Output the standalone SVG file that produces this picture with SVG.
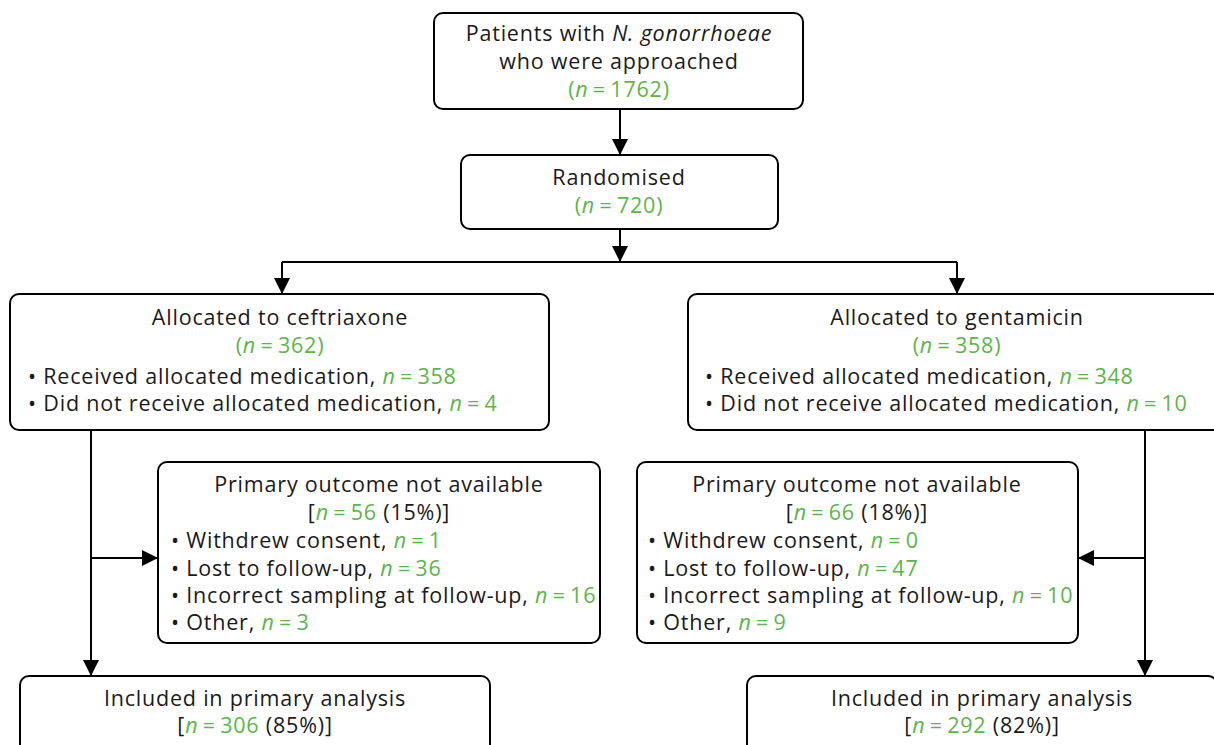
<svg xmlns="http://www.w3.org/2000/svg" width="1214" height="745" viewBox="0 0 1214 745">
<style>
.box{fill:#fff;stroke:#000;stroke-width:2}
.t{font-family:"Open Sans","Liberation Sans",sans-serif;font-size:21.5px;letter-spacing:0.8px;fill:#1a1a1a}
.c{text-anchor:middle}
.g{fill:#5cb54a}
.i{font-style:italic}
.ln{fill:none;stroke:#000;stroke-width:2}
</style>
<defs>
<marker id="a" viewBox="0 0 16 16" refX="16" refY="8" markerWidth="16" markerHeight="16" markerUnits="userSpaceOnUse" orient="auto">
<path d="M0,0 L16,8 L0,16 Z" fill="#000"/>
</marker>
</defs>
<g id="connectors">
<line class="ln" x1="620" y1="109" x2="620" y2="155" marker-end="url(#a)"/>
<line class="ln" x1="620" y1="229" x2="620" y2="262" marker-end="url(#a)"/>
<polyline class="ln" points="282,262 957,262"/>
<line class="ln" x1="282" y1="262" x2="282" y2="294" marker-end="url(#a)"/>
<line class="ln" x1="957" y1="262" x2="957" y2="294" marker-end="url(#a)"/>
<line class="ln" x1="91" y1="430" x2="91" y2="676" marker-end="url(#a)"/>
<line class="ln" x1="91" y1="558" x2="158" y2="558" marker-end="url(#a)"/>
<line class="ln" x1="1145" y1="430" x2="1145" y2="676" marker-end="url(#a)"/>
<line class="ln" x1="1145" y1="558" x2="1078" y2="558" marker-end="url(#a)"/>
</g>
<g id="approached">
<rect class="box" x="434" y="13" width="369" height="96" rx="9"/>
<text class="t c" x="619" y="41">Patients with <tspan class="i">N. gonorrhoeae</tspan></text>
<text class="t c" x="619" y="69">who were approached</text>
<text class="t c g" x="619" y="97">(<tspan class="i">n</tspan>&#8201;=&#8201;1762)</text>
</g>
<g id="randomised">
<rect class="box" x="461" y="155" width="317" height="74" rx="9"/>
<text class="t c" x="619" y="185">Randomised</text>
<text class="t c g" x="619" y="213">(<tspan class="i">n</tspan>&#8201;=&#8201;720)</text>
</g>
<g id="ceftriaxone">
<rect class="box" x="10" y="294" width="539" height="136" rx="9"/>
<text class="t c" x="280" y="325">Allocated to ceftriaxone</text>
<text class="t c g" x="280" y="353">(<tspan class="i">n</tspan>&#8201;=&#8201;362)</text>
<text class="t" x="28" y="384">• Received allocated medication, <tspan class="g"><tspan class="i">n</tspan>&#8201;=&#8201;358</tspan></text>
<text class="t" x="28" y="411">• Did not receive allocated medication, <tspan class="g"><tspan class="i">n</tspan>&#8201;=&#8201;4</tspan></text>
</g>
<g id="gentamicin">
<rect class="box" x="688" y="294" width="538" height="136" rx="9"/>
<text class="t c" x="957" y="325">Allocated to gentamicin</text>
<text class="t c g" x="957" y="353">(<tspan class="i">n</tspan>&#8201;=&#8201;358)</text>
<text class="t" x="705" y="384">• Received allocated medication, <tspan class="g"><tspan class="i">n</tspan>&#8201;=&#8201;348</tspan></text>
<text class="t" x="705" y="411">• Did not receive allocated medication, <tspan class="g"><tspan class="i">n</tspan>&#8201;=&#8201;10</tspan></text>
</g>
<g id="outcome-left">
<rect class="box" x="158" y="462" width="442" height="181" rx="9"/>
<text class="t c" x="379" y="492">Primary outcome not available</text>
<text class="t c" x="379" y="520">[<tspan class="g"><tspan class="i">n</tspan>&#8201;=&#8201;56</tspan> (15%)]</text>
<text class="t" x="171" y="548">• Withdrew consent, <tspan class="g"><tspan class="i">n</tspan>&#8201;=&#8201;1</tspan></text>
<text class="t" x="171" y="576">• Lost to follow-up, <tspan class="g"><tspan class="i">n</tspan>&#8201;=&#8201;36</tspan></text>
<text class="t" x="171" y="603">• Incorrect sampling at follow-up, <tspan class="g"><tspan class="i">n</tspan>&#8201;=&#8201;16</tspan></text>
<text class="t" x="171" y="630">• Other, <tspan class="g"><tspan class="i">n</tspan>&#8201;=&#8201;3</tspan></text>
</g>
<g id="outcome-right">
<rect class="box" x="637" y="462" width="441" height="181" rx="9"/>
<text class="t c" x="857" y="492">Primary outcome not available</text>
<text class="t c" x="857" y="520">[<tspan class="g"><tspan class="i">n</tspan>&#8201;=&#8201;66</tspan> (18%)]</text>
<text class="t" x="648" y="548">• Withdrew consent, <tspan class="g"><tspan class="i">n</tspan>&#8201;=&#8201;0</tspan></text>
<text class="t" x="648" y="576">• Lost to follow-up, <tspan class="g"><tspan class="i">n</tspan>&#8201;=&#8201;47</tspan></text>
<text class="t" x="648" y="603">• Incorrect sampling at follow-up, <tspan class="g"><tspan class="i">n</tspan>&#8201;=&#8201;10</tspan></text>
<text class="t" x="648" y="630">• Other, <tspan class="g"><tspan class="i">n</tspan>&#8201;=&#8201;9</tspan></text>
</g>
<g id="included-left">
<rect class="box" x="20" y="676" width="470" height="90" rx="9"/>
<text class="t c" x="255" y="706">Included in primary analysis</text>
<text class="t c" x="255" y="733">[<tspan class="g"><tspan class="i">n</tspan>&#8201;=&#8201;306</tspan> (85%)]</text>
</g>
<g id="included-right">
<rect class="box" x="747" y="676" width="470" height="90" rx="9"/>
<text class="t c" x="982" y="706">Included in primary analysis</text>
<text class="t c" x="982" y="733">[<tspan class="g"><tspan class="i">n</tspan>&#8201;=&#8201;292</tspan> (82%)]</text>
</g>
</svg>
